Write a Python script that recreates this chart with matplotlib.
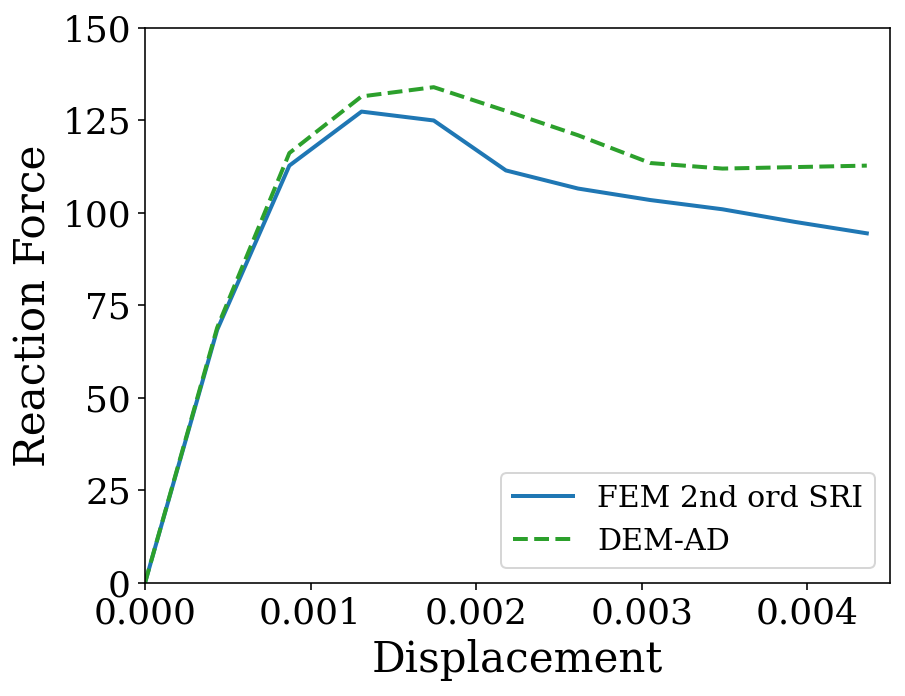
import matplotlib
matplotlib.use("Agg")
import matplotlib.pyplot as plt

displacement = [0.0, 0.000436, 0.000872, 0.001308, 0.001744, 0.00218,
                0.002616, 0.003052, 0.003488, 0.003924, 0.00436]
fem_force = [0.0, 68.4, 112.8, 127.4, 125.0, 111.5, 106.6, 103.5, 101.0, 97.6, 94.5]
dem_force = [0.0, 69.0, 116.2, 131.5, 134.0, 127.6, 121.0, 113.5, 112.0, 112.4, 112.8]

plt.rcParams['font.family'] = 'DejaVu Serif'

fig = plt.figure(figsize=(905 / 144, 696 / 144), dpi=144)
ax = fig.add_axes([0.1602, 0.1624, 0.8232, 0.7974])

ax.plot(displacement, fem_force, color='tab:blue', lw=2, label='FEM 2nd ord SRI')
ax.plot(displacement, dem_force, color='tab:green', lw=2, ls='--', label='DEM-AD')

ax.set_xlim(0, 0.0045)
ax.set_ylim(0, 150)
ax.set_xticks([0, 0.001, 0.002, 0.003, 0.004])
ax.set_xticklabels(['0.000', '0.001', '0.002', '0.003', '0.004'])
ax.set_yticks([0, 25, 50, 75, 100, 125, 150])
ax.tick_params(labelsize=18)
ax.set_xlabel('Displacement', fontsize=21)
ax.set_ylabel('Reaction Force', fontsize=21)
ax.legend(loc='lower right', fontsize=15)

fig.savefig('out.png', dpi=144)
